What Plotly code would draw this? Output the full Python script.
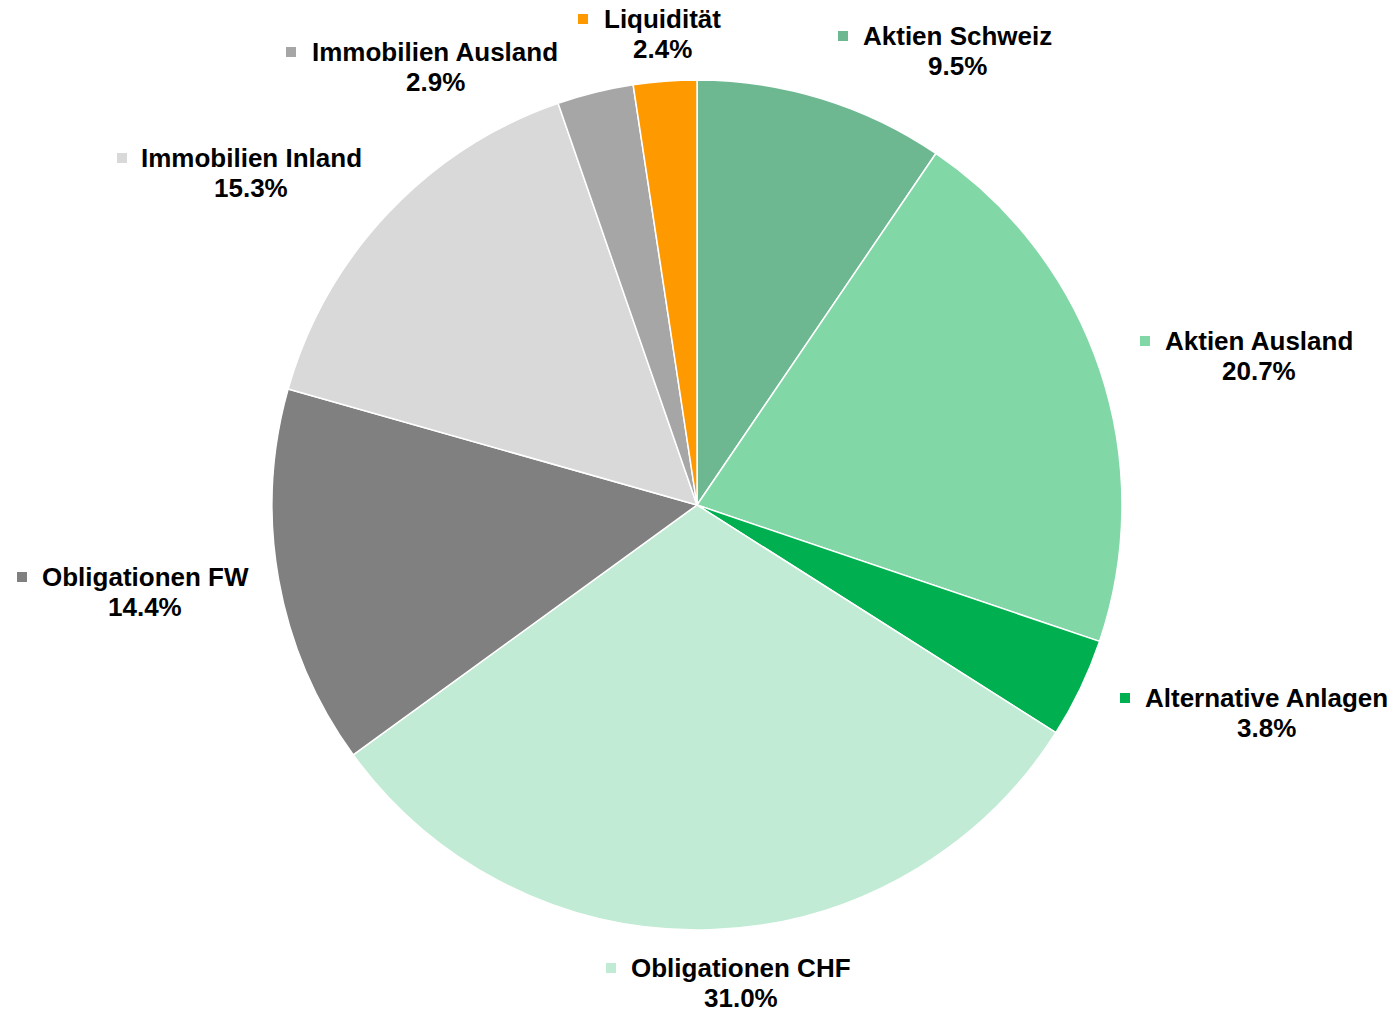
import plotly.graph_objects as go

categories = ["Aktien Schweiz", "Aktien Ausland", "Alternative Anlagen", "Obligationen CHF",
              "Obligationen FW", "Immobilien Inland", "Immobilien Ausland", "Liquidität"]
values = [9.5, 20.7, 3.8, 31.0, 14.4, 15.3, 2.9, 2.4]
colors = ["#6DB891", "#82D7A7", "#00B050", "#C1EBD4", "#808080", "#D9D9D9", "#A6A6A6", "#FF9900"]

# label layout in reference pixels: text center x, name center y, square left x
label_pos = {
    "Liquidität": (662, 19, 578),
    "Aktien Schweiz": (957, 36, 838),
    "Immobilien Ausland": (435, 52, 286),
    "Immobilien Inland": (251, 158, 117),
    "Aktien Ausland": (1259, 341, 1140),
    "Alternative Anlagen": (1266, 698, 1120),
    "Obligationen FW": (145, 577, 17),
    "Obligationen CHF": (741, 968, 606),
}

OFF = 8  # page body margin
W, H = 1395 - OFF, 1010 - OFF
cx, cy, r = 697 - OFF, 505 - OFF, 425
PITCH = 29.5
FONT = dict(family="Liberation Sans, Arial", size=26, color="black")

fig = go.Figure(go.Pie(
    labels=categories, values=values, sort=False, direction="clockwise", rotation=0,
    marker=dict(colors=colors, line=dict(color="white", width=1.5)),
    textinfo="none", showlegend=False,
    domain=dict(x=[(cx - r) / W, (cx + r) / W], y=[(H - cy - r) / H, (H - cy + r) / H]),
))

annotations = []
shapes = []
for cat, val, col in zip(categories, values, colors):
    tx, ny, sx = label_pos[cat]
    tx, ny, sx = tx - OFF, ny - OFF, sx - OFF
    annotations.append(dict(
        x=tx / W, y=1 - ny / H, xref="paper", yref="paper", xanchor="center", yanchor="middle",
        text=f"<b>{cat}</b>", showarrow=False, font=FONT,
    ))
    annotations.append(dict(
        x=tx / W, y=1 - (ny + PITCH) / H, xref="paper", yref="paper", xanchor="center", yanchor="middle",
        text=f"<b>{val:.1f}%</b>", showarrow=False, font=FONT,
    ))
    shapes.append(dict(
        type="rect", xref="paper", yref="paper",
        x0=sx / W, x1=(sx + 10) / W, y0=1 - (ny + 5) / H, y1=1 - (ny - 5) / H,
        fillcolor=col, line=dict(width=0),
    ))

fig.update_layout(
    width=W, height=H, margin=dict(l=0, r=0, t=0, b=0),
    paper_bgcolor="white", plot_bgcolor="white",
    annotations=annotations, shapes=shapes,
)
fig.write_html("out.html")
